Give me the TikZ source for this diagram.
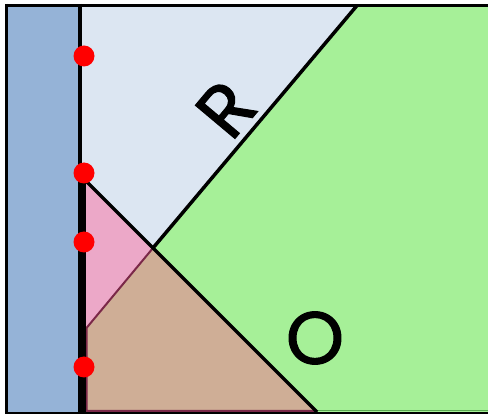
\documentclass[tikz,border=0pt]{standalone}
\usepackage{fontspec}
\setmainfont{Poppins}
\newfontfamily\labelfont[FakeBold=1.6]{Poppins}
\definecolor{stripblue}{RGB}{149,179,215}
\definecolor{paleblue}{RGB}{220,230,242}
\definecolor{regiongreen}{RGB}{166,240,152}
\definecolor{regionpink}{RGB}{236,168,200}
\definecolor{regionbrown}{RGB}{207,174,150}
\definecolor{maroon}{RGB}{122,40,72}
\definecolor{darkgreen}{RGB}{90,170,80}
\tikzset{
  edge/.style={line width=3.5pt, black},
  dot/.style={circle, fill=red, inner sep=0pt, minimum size=21pt},
  biglabel/.style={inner sep=0pt, font=\labelfont\fontsize{74}{90}\selectfont}
}
\begin{document}
\begin{tikzpicture}[x=1pt,y=-1pt]
\useasboundingbox (0,0) rectangle (488,414);
% regions
\fill[paleblue] (80,5.5) -- (357,5.5) -- (153,248) -- (84,179) -- (80,179) -- cycle;
\fill[regiongreen] (357,5.5) -- (490,5.5) -- (490,414) -- (317,414) -- (153,248) -- cycle;
\draw[darkgreen, line width=1pt] (317,410.5) -- (490,410.5);
\fill[regionpink] (84,179) -- (153,248) -- (86,328) -- (80,328) -- (80,179) -- cycle;
\fill[regionbrown] (86,328) -- (153,248) -- (317,411) -- (80,411) -- (80,328) -- cycle;
\draw[maroon, line width=2pt] (153,248) -- (86.5,328) -- (86.5,411) -- (317,411);
\fill[stripblue] (6.5,5.5) rectangle (80,412);
% black lines
\coordinate (tl) at (5,5.5);
\coordinate (tr) at (490,5.5);
\coordinate (bl) at (5,413.5);
\coordinate (br) at (490,413.5);
\coordinate (lt) at (6.5,4);
\coordinate (lb) at (6.5,416);
\coordinate (dt) at (80,4);
\coordinate (db) at (80,416);
\coordinate (kt) at (82,173);
\coordinate (kb) at (82,416);
\coordinate (rt) at (357,5.5);
\coordinate (x) at (153,248);
\coordinate (ds) at (84,179);
\coordinate (de) at (317,412);
\draw[edge] (tl) -- (tr);
\draw[edge] (bl) -- (br);
\draw[edge] (lt) -- (lb);
\draw[edge] (dt) -- (db);
\draw[line width=7.5pt] (kt) -- (kb);
\draw[edge] (rt) -- (x);
\draw[edge] (ds) -- (de);
% labels
\node[biglabel, rotate=50] (R) at (226,109) {R};
\node[biglabel] (O) at (315,338) {O};
% dots
\node[dot] (d1) at (84,56) {};
\node[dot] (d2) at (84,173) {};
\node[dot] (d3) at (84,242) {};
\node[dot] (d4) at (84,367) {};
\end{tikzpicture}
\end{document}
